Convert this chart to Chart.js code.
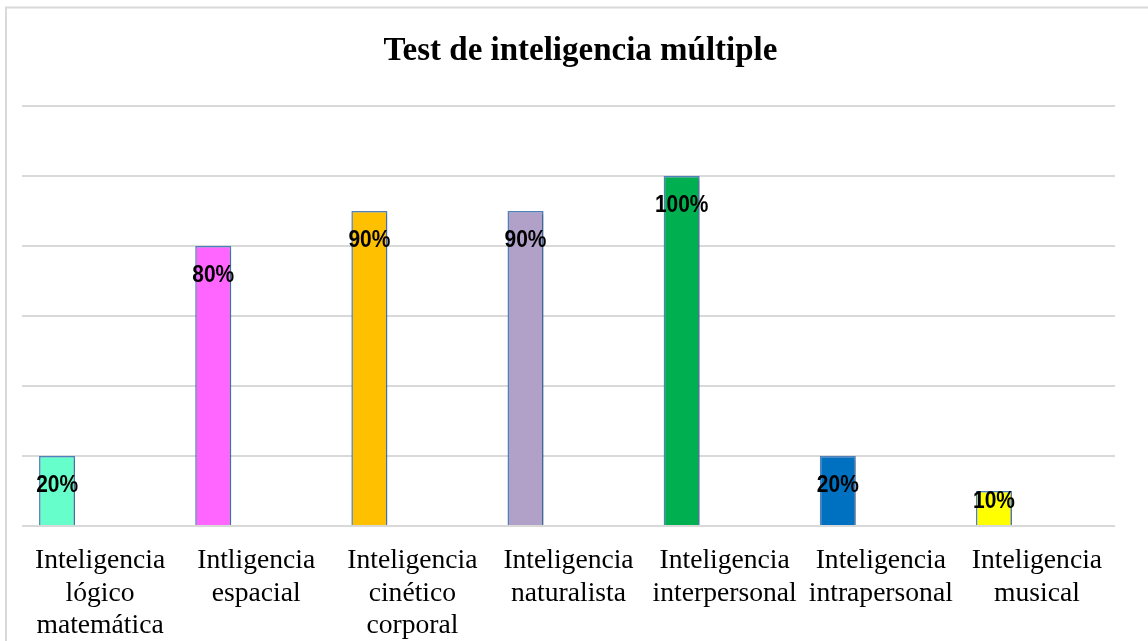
<!DOCTYPE html>
<html>
<head>
<meta charset="utf-8">
<script src="https://cdn.jsdelivr.net/npm/chart.js@4.4.1/dist/chart.umd.min.js"></script>
<style>
  html, body { margin: 0; padding: 0; background: #ffffff; }
  #wrap { position: relative; width: 1148px; height: 641px; overflow: hidden; }
  canvas { position: absolute; left: 0; top: 0; }
</style>
</head>
<body>
<div id="wrap"><canvas id="c" width="1148" height="641"></canvas></div>
<script>
// ---- Data ----
const chartTitle = "Test de inteligencia múltiple";
const categories = [
  ["Inteligencia", "lógico", "matemática"],
  ["Intligencia", "espacial"],
  ["Inteligencia", "cinético", "corporal"],
  ["Inteligencia", "naturalista"],
  ["Inteligencia", "interpersonal"],
  ["Inteligencia", "intrapersonal"],
  ["Inteligencia", "musical"]
];
const percentValues = [20, 80, 90, 90, 100, 20, 10];
const emptySeriesA = [null, null, null, null, null, null, null];
const emptySeriesB = [null, null, null, null, null, null, null];
const barColors = ["#66FFCC", "#FF66FF", "#FFC000", "#B1A0C7", "#00B050", "#0070C0", "#FFFF00"];
const yTickValues = [0, 20, 40, 60, 80, 100, 120];

const serif = '"Liberation Serif", "Times New Roman", serif';
const sans = '"Liberation Sans", Arial, sans-serif';

const framePlugin = {
  id: 'frame',
  beforeDraw(chart) {
    const ctx = chart.ctx;
    ctx.save();
    ctx.strokeStyle = '#d9d9d9';
    ctx.lineWidth = 2;
    ctx.beginPath();
    ctx.moveTo(6, 700);
    ctx.lineTo(6, 7.5);
    ctx.lineTo(1200, 7.5);
    ctx.stroke();
    ctx.restore();
  },
  afterDraw(chart) {
    const ctx = chart.ctx;
    ctx.save();
    ctx.fillStyle = '#000';
    ctx.font = 'bold 33px ' + serif;
    ctx.textAlign = 'center';
    ctx.textBaseline = 'alphabetic';
    ctx.fillText(chartTitle, 580.5, 59.5);
    ctx.restore();
  }
};

const shadowPlugin = {
  id: 'barShadow',
  beforeDatasetDraw(chart) {
    const ctx = chart.ctx;
    ctx.save();
    ctx.shadowColor = 'rgba(0,0,0,0.28)';
    ctx.shadowBlur = 3;
    ctx.shadowOffsetX = 1.5;
    ctx.shadowOffsetY = 1;
  },
  afterDatasetDraw(chart) {
    chart.ctx.restore();
  }
};

const labelPlugin = {
  id: 'valueLabels',
  afterDatasetsDraw(chart) {
    const ctx = chart.ctx;
    const meta = chart.getDatasetMeta(0);
    ctx.save();
    ctx.fillStyle = '#000';
    ctx.font = 'bold 23px ' + sans;
    ctx.textAlign = 'center';
    ctx.textBaseline = 'alphabetic';
    meta.data.forEach((bar, i) => {
      const v = percentValues[i];
      if (v == null) return;
      const top = bar.y, bottom = bar.base;
      const yc = Math.min(top + 27.5, bottom - 25.5);
      ctx.save();
      ctx.translate(bar.x, yc + 8.2);
      ctx.scale(0.91, 1);
      ctx.fillText(v + '%', 0, 0);
      ctx.restore();
    });
    ctx.restore();
  }
};

new Chart(document.getElementById('c'), {
  type: 'bar',
  data: {
    labels: categories,
    datasets: [
      {
        data: percentValues,
        backgroundColor: barColors,
        borderColor: '#4F81BD',
        borderWidth: 1.5,
        categoryPercentage: 0.826,
        barPercentage: 0.837
      },
      { data: emptySeriesA, categoryPercentage: 0.826, barPercentage: 0.837 },
      { data: emptySeriesB, categoryPercentage: 0.826, barPercentage: 0.837 }
    ]
  },
  options: {
    responsive: false,
    devicePixelRatio: 1,
    animation: false,
    layout: { padding: { top: 106, left: 22, right: 33, bottom: 0 } },
    plugins: {
      legend: { display: false },
      title: { display: false },
      tooltip: { enabled: false }
    },
    scales: {
      x: {
        grid: { display: false },
        border: { display: false },
        afterFit(scale) { scale.height = 115; },
        ticks: {
          color: '#000',
          font: { family: serif, size: 27.6, lineHeight: 1.167 },
          padding: 11,
          maxRotation: 0,
          autoSkip: false
        }
      },
      y: {
        min: yTickValues[0],
        max: yTickValues[yTickValues.length - 1],
        afterBuildTicks(scale) { scale.ticks = yTickValues.map(v => ({ value: v })); },
        ticks: { display: false },
        grid: { color: '#d9d9d9', lineWidth: 2, drawTicks: false },
        border: { display: false }
      }
    }
  },
  plugins: [framePlugin, shadowPlugin, labelPlugin]
});
</script>
</body>
</html>
